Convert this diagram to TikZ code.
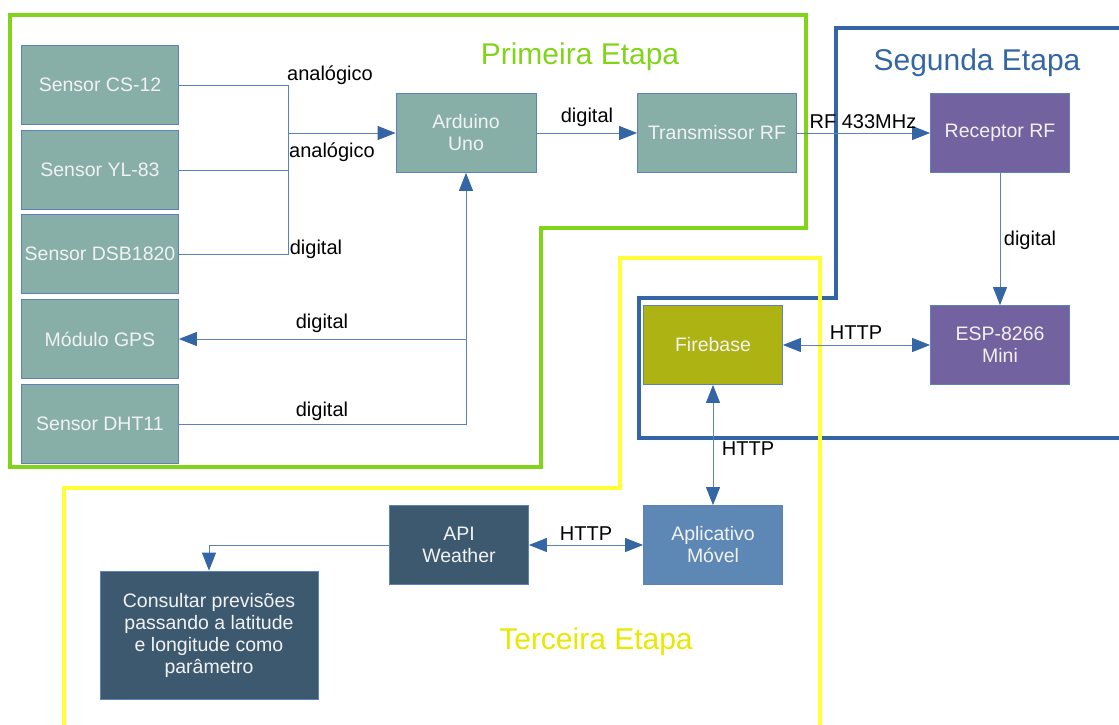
\documentclass[tikz,border=0pt]{standalone}
\usepackage{fontspec}
\setmainfont{Liberation Sans}
\usepackage{xcolor}
\usetikzlibrary{arrows.meta}

\definecolor{boxteal}{RGB}{135,175,168}
\definecolor{boxpurple}{RGB}{114,98,160}
\definecolor{boxolive}{RGB}{174,179,20}
\definecolor{boxdark}{RGB}{61,89,112}
\definecolor{boxblue}{RGB}{93,135,181}
\definecolor{edgeblue}{RGB}{52,101,164}
\definecolor{lineblue}{RGB}{92,130,185}
\definecolor{framegreen}{RGB}{129,212,26}
\definecolor{frameblue}{RGB}{52,101,164}
\definecolor{frameyellow}{RGB}{255,255,56}
\definecolor{titleyellow}{RGB}{232,232,0}

\tikzset{
  blk/.style={draw=lineblue, line width=0.8pt, text=white!95!black, align=center,
    minimum width=157pt, minimum height=79pt, inner sep=0pt,
    font=\fontsize{19.5}{22}\selectfont},
  sensor/.style={blk, fill=boxteal},
  wire/.style={draw=lineblue, line width=1pt},
  tip/.style={wire, -{Triangle[length=18pt,width=14pt,color=edgeblue]}},
  twotip/.style={wire, {Triangle[length=18pt,width=14pt,color=edgeblue]}-{Triangle[length=18pt,width=14pt,color=edgeblue]}},
  lbl/.style={font=\fontsize{20}{22}\selectfont, text=black, inner sep=0pt},
  stage/.style={font=\fontsize{30}{34}\selectfont, inner sep=0pt}
}

\begin{document}
\begin{tikzpicture}[x=1pt,y=-1pt]

\useasboundingbox (0,0) rectangle (1119,724);

% frames
\draw[framegreen, line width=4pt] (10,15) -- (806,15) -- (806,228) -- (541,228)
  -- (541,467) -- (10,467) -- cycle;
\draw[frameblue, line width=4pt] (1125,28) -- (836,28) -- (836,298) -- (639,298)
  -- (639,438) -- (1125,438);
\draw[frameyellow, line width=4pt] (64,730) -- (64,488) -- (620,488) -- (620,258)
  -- (820,258) -- (820,730);

\node[stage, text=framegreen] (t1) at (580,57) {Primeira Etapa};
\node[stage, text=frameblue] (t2) at (977,63) {Segunda Etapa};
\node[stage, text=titleyellow] (t3) at (596,642) {Terceira Etapa};

% primeira etapa
\node[sensor] (cs) at (100,85) {Sensor CS-12};
\node[sensor] (yl) at (100,170) {Sensor YL-83};
\node[sensor] (dsb) at (100,254) {Sensor DSB1820};
\node[sensor] (gps) at (100,339) {Módulo GPS};
\node[sensor] (dht) at (100,424) {Sensor DHT11};
\node[sensor, minimum width=140pt] (ard) at (466,133) {Arduino\\Uno};
\node[sensor, minimum width=159pt] (tx) at (717,133) {Transmissor RF};

% segunda etapa
\node[blk, fill=boxpurple, minimum width=139pt] (rx) at (1000,133) {Receptor RF};
\node[blk, fill=boxpurple, minimum width=139pt] (esp) at (1000,345) {ESP-8266\\Mini};
\node[blk, fill=boxolive, minimum width=139pt] (fb) at (713,345) {Firebase};

% terceira etapa
\node[blk, fill=boxblue, minimum width=139pt] (app) at (713,545) {Aplicativo\\Móvel};
\node[blk, fill=boxdark, minimum width=139pt] (api) at (459,545) {API\\Weather};
\node[blk, fill=boxdark, minimum width=218pt, minimum height=128pt] (cons) at (209,635)
  {Consultar previsões\\passando a latitude\\e longitude como\\parâmetro};

\coordinate (bus) at (288,133);

\draw[wire] (cs.east) -| (bus);
\draw[wire] (dsb.east) -| (bus);
\draw[wire] (yl.east) -- (yl.east -| bus);
\draw[tip] (bus) -- (ard.west);
\draw[tip] (dht.east) -| (ard.south);
\draw[tip] (ard.south |- gps.east) -- (gps.east);
\draw[tip] (ard.east) -- (tx.west);
\draw[tip] (tx.east) -- (rx.west);
\draw[tip] (rx.south) -- (esp.north);
\draw[twotip] (fb.east) -- (esp.west);
\draw[twotip] (fb.south) -- (app.north);
\draw[twotip] (api.east) -- (app.west);
\draw[tip] (api.west) -| (cons.north);

\node[lbl] (l1) at (330,75) {analógico};
\node[lbl] (l2) at (332,152) {analógico};
\node[lbl] (l3) at (316,249) {digital};
\node[lbl] (l4) at (322,323) {digital};
\node[lbl] (l5) at (322,411) {digital};
\node[lbl] (l6) at (587,117) {digital};
\node[lbl] (l7) at (863,122) {RF 433MHz};
\node[lbl] (l8) at (1030,240) {digital};
\node[lbl] (l9) at (856,333) {HTTP};
\node[lbl] (l10) at (748,449) {HTTP};
\node[lbl] (l11) at (586,534) {HTTP};

\end{tikzpicture}
\end{document}
